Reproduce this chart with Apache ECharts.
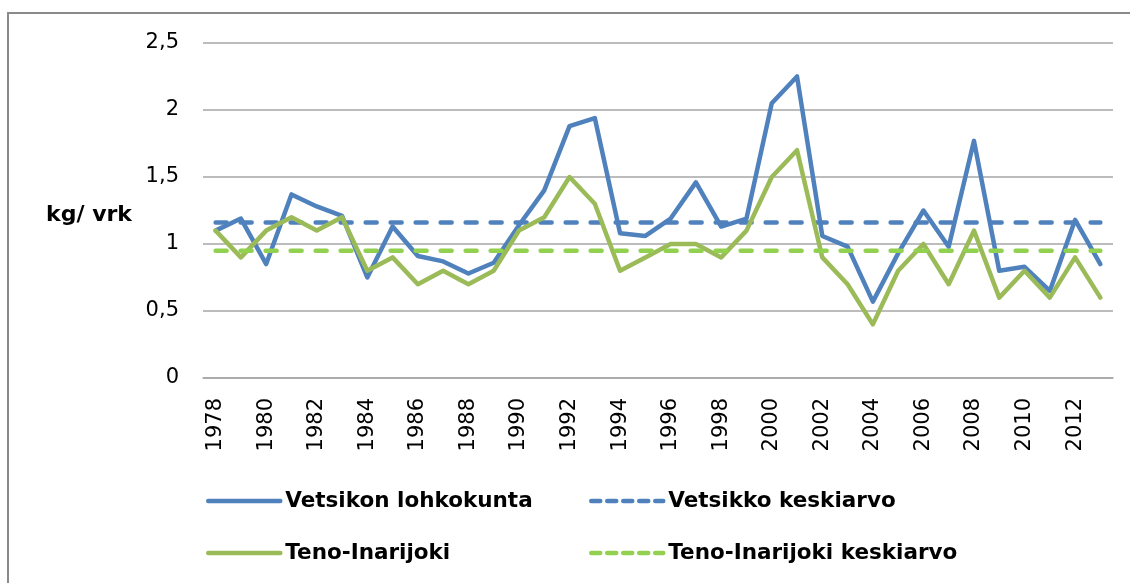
<!DOCTYPE html>
<html>
<head>
<meta charset="utf-8">
<script src="https://cdn.jsdelivr.net/npm/echarts@6/dist/echarts.min.js"></script>
<style>
html,body{margin:0;padding:0;background:#fff;}
#chart{width:1130px;height:583px;}
</style>
</head>
<body>
<div id="chart"></div>
<script>
const years = ['1978','1979','1980','1981','1982','1983','1984','1985','1986','1987','1988','1989','1990','1991','1992','1993','1994','1995','1996','1997','1998','1999','2000','2001','2002','2003','2004','2005','2006','2007','2008','2009','2010','2011','2012','2013'];
const vetsikon = [1.10,1.19,0.85,1.37,1.28,1.21,0.75,1.13,0.91,0.87,0.78,0.86,1.14,1.40,1.88,1.94,1.08,1.06,1.19,1.46,1.13,1.19,2.05,2.25,1.06,0.98,0.57,0.93,1.25,0.98,1.77,0.80,0.83,0.65,1.18,0.85];
const teno = [1.10,0.90,1.10,1.20,1.10,1.20,0.80,0.90,0.70,0.80,0.70,0.80,1.10,1.20,1.50,1.30,0.80,0.90,1.00,1.00,0.90,1.10,1.50,1.70,0.90,0.70,0.40,0.80,1.00,0.70,1.10,0.60,0.80,0.60,0.90,0.60];
const vetsikkoMean = 1.16;
const tenoMean = 0.95;
const yTicks = [0, 0.5, 1, 1.5, 2, 2.5];
const yAxisTitle = 'kg/ vrk';
const names = ['Vetsikon lohkokunta','Vetsikko keskiarvo','Teno-Inarijoki','Teno-Inarijoki keskiarvo'];

const BLUE = '#4F81BD', GREEN = '#9BBB59', LGREEN = '#92D050';
const chart = echarts.init(document.getElementById('chart'));
const legendText = {fontFamily:'DejaVu Sans', fontWeight:'bold', fontSize:21.5, color:'#000', lineHeight:26};
function leg(name, left, top, color, dashed){
  return {
    show:true, left:left, top:top, padding:0, itemWidth:72, itemHeight:14,
    textStyle:legendText, selectedMode:false,
    data:[{name:name, itemStyle:{opacity:0, color:color},
      lineStyle:{color:color, width:4.5, type: dashed ? [9,7] : 'solid', cap:'round'}}]
  };
}
const first = years[0], last = years[years.length-1];
chart.setOption({
  backgroundColor:'#fff',
  animation:false,
  graphic:[
    {type:'rect', shape:{x:8,y:13,width:1200,height:700}, style:{fill:'none', stroke:'#8a8a8a', lineWidth:2}},
    {type:'text', x:132, y:215.5, style:{text:yAxisTitle, align:'right', verticalAlign:'middle',
      font:'bold 22px "DejaVu Sans"', fill:'#000'}}
  ],
  grid:{left:203, right:17, top:43, bottom:205, containLabel:false},
  legend:[
    leg(names[0], 206, 488, BLUE, false),
    leg(names[1], 589, 488, BLUE, true),
    leg(names[2], 206, 540, GREEN, false),
    leg(names[3], 589, 540, LGREEN, true)
  ],
  xAxis:{
    type:'category', data:years, boundaryGap:true,
    axisLine:{show:true, lineStyle:{color:'#A6A6A6', width:1.5}},
    axisTick:{show:false},
    axisLabel:{interval:1, rotate:90, margin:20, fontFamily:'DejaVu Sans', fontSize:21, color:'#000'}
  },
  yAxis:{
    type:'value', min:yTicks[0], max:yTicks[yTicks.length-1], interval:0.5,
    axisLine:{show:false}, axisTick:{show:false},
    axisLabel:{margin:24, fontFamily:'DejaVu Sans', fontSize:21, color:'#000',
      formatter:function(v){return String(v).replace('.', ',');}},
    splitLine:{lineStyle:{color:'#A6A6A6', width:1.5}}
  },
  series:[
    {name:names[0], type:'line', data:vetsikon, symbol:'none', lineStyle:{color:BLUE, width:4.5, join:'round', cap:'round'}, itemStyle:{color:BLUE}},
    {name:names[1], type:'line', data:[[first, vetsikkoMean],[last, vetsikkoMean]], symbol:'none', lineStyle:{color:BLUE, width:4.5, type:[11,14], cap:'round'}, itemStyle:{color:BLUE}},
    {name:names[2], type:'line', data:teno, symbol:'none', lineStyle:{color:GREEN, width:4.5, join:'round', cap:'round'}, itemStyle:{color:GREEN}},
    {name:names[3], type:'line', data:[[first, tenoMean],[last, tenoMean]], symbol:'none', lineStyle:{color:LGREEN, width:4.5, type:[11,14], cap:'round'}, itemStyle:{color:LGREEN}}
  ]
});
</script>
</body>
</html>
